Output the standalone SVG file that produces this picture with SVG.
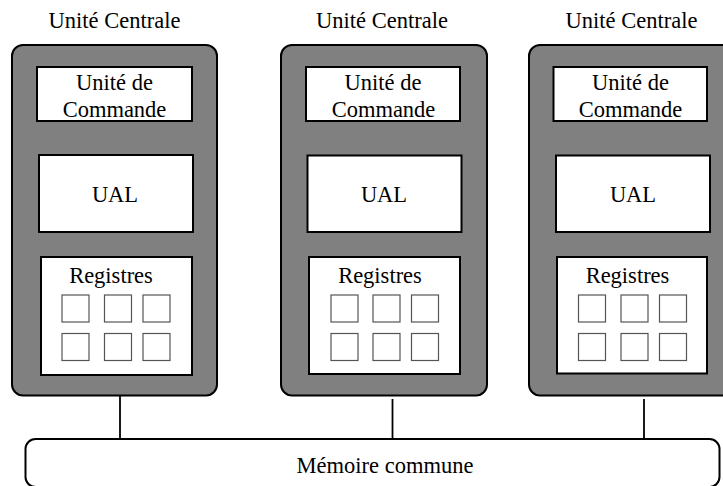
<svg xmlns="http://www.w3.org/2000/svg" width="723" height="486" viewBox="0 0 723 486">
  <style>
    text { font-size: 22.5px; fill: #000; text-anchor: middle; }
    .cpu { fill: #808080; stroke: #000; stroke-width: 2; }
    .unit { fill: #fff; stroke: #000; stroke-width: 2; }
    .reg { fill: #fff; stroke: #555; stroke-width: 1.2; }
    .bus { stroke: #000; stroke-width: 1.8; fill: none; }
    .mem { fill: #fff; stroke: #000; stroke-width: 2; }
  </style>

  <g font-family="Liberation Serif, Tinos, Times New Roman, DejaVu Serif, serif">
  <!-- Processing unit 1 -->
  <g id="cpu1">
    <text x="114.5" y="27.5">Unité Centrale</text>
    <rect class="cpu" x="12" y="45" width="205" height="350.5" rx="11"/>
    <rect class="unit" x="37" y="67" width="155" height="54"/>
    <text x="114.5" y="89.5">Unité de</text>
    <text x="114.5" y="117">Commande</text>
    <rect class="unit" x="39" y="155" width="154" height="77"/>
    <text x="115" y="202">UAL</text>
    <rect class="unit" x="41" y="257" width="151" height="118"/>
    <text x="111" y="283">Registres</text>
    <rect class="reg" x="62" y="295" width="27" height="27"/>
    <rect class="reg" x="104.5" y="295" width="27" height="27"/>
    <rect class="reg" x="143" y="295" width="27" height="27"/>
    <rect class="reg" x="62" y="333.5" width="27" height="27"/>
    <rect class="reg" x="104.5" y="333.5" width="27" height="27"/>
    <rect class="reg" x="143" y="333.5" width="27" height="27"/>
  </g>

  <!-- Processing unit 2 -->
  <g id="cpu2">
    <text x="382" y="27.5">Unité Centrale</text>
    <rect class="cpu" x="281" y="45" width="206" height="350.5" rx="11"/>
    <rect class="unit" x="306" y="67" width="154" height="54"/>
    <text x="383" y="89.5">Unité de</text>
    <text x="383.5" y="117">Commande</text>
    <rect class="unit" x="307.5" y="155.5" width="154" height="76.5"/>
    <text x="384" y="202">UAL</text>
    <rect class="unit" x="309" y="257" width="151" height="117"/>
    <text x="380" y="283">Registres</text>
    <rect class="reg" x="331" y="295" width="27" height="27"/>
    <rect class="reg" x="373" y="295" width="27" height="27"/>
    <rect class="reg" x="411.5" y="295" width="27" height="27"/>
    <rect class="reg" x="331" y="333.5" width="27" height="27"/>
    <rect class="reg" x="373" y="333.5" width="27" height="27"/>
    <rect class="reg" x="411.5" y="333.5" width="27" height="27"/>
  </g>

  <!-- Processing unit 3 (runs past the right edge) -->
  <g id="cpu3">
    <text x="631.5" y="27.5">Unité Centrale</text>
    <rect class="cpu" x="529" y="45" width="206" height="350.5" rx="11"/>
    <rect class="unit" x="553.5" y="67" width="153.5" height="54"/>
    <text x="630.5" y="89.5">Unité de</text>
    <text x="630.5" y="117">Commande</text>
    <rect class="unit" x="556" y="155.5" width="154" height="76.5"/>
    <text x="633" y="202">UAL</text>
    <rect class="unit" x="557" y="257" width="150" height="116.5"/>
    <text x="627.5" y="283">Registres</text>
    <rect class="reg" x="578.5" y="295" width="27" height="27"/>
    <rect class="reg" x="621" y="295" width="27" height="27"/>
    <rect class="reg" x="659.5" y="295" width="27" height="27"/>
    <rect class="reg" x="578.5" y="333.5" width="27" height="27"/>
    <rect class="reg" x="621" y="333.5" width="27" height="27"/>
    <rect class="reg" x="659.5" y="333.5" width="27" height="27"/>
  </g>

  <!-- Shared memory -->
  <g id="memory">
    <rect class="mem" x="25.5" y="439" width="694" height="48" rx="10"/>
    <text x="385" y="473">Mémoire commune</text>
  </g>
  </g>

  <!-- Bus links from each unit to the shared memory -->
  <g id="connectors">
    <line class="bus" x1="120" y1="396" x2="120" y2="439"/>
    <line class="bus" x1="392.5" y1="399" x2="392.5" y2="439"/>
    <line class="bus" x1="644" y1="399" x2="644" y2="439"/>
  </g>
</svg>
